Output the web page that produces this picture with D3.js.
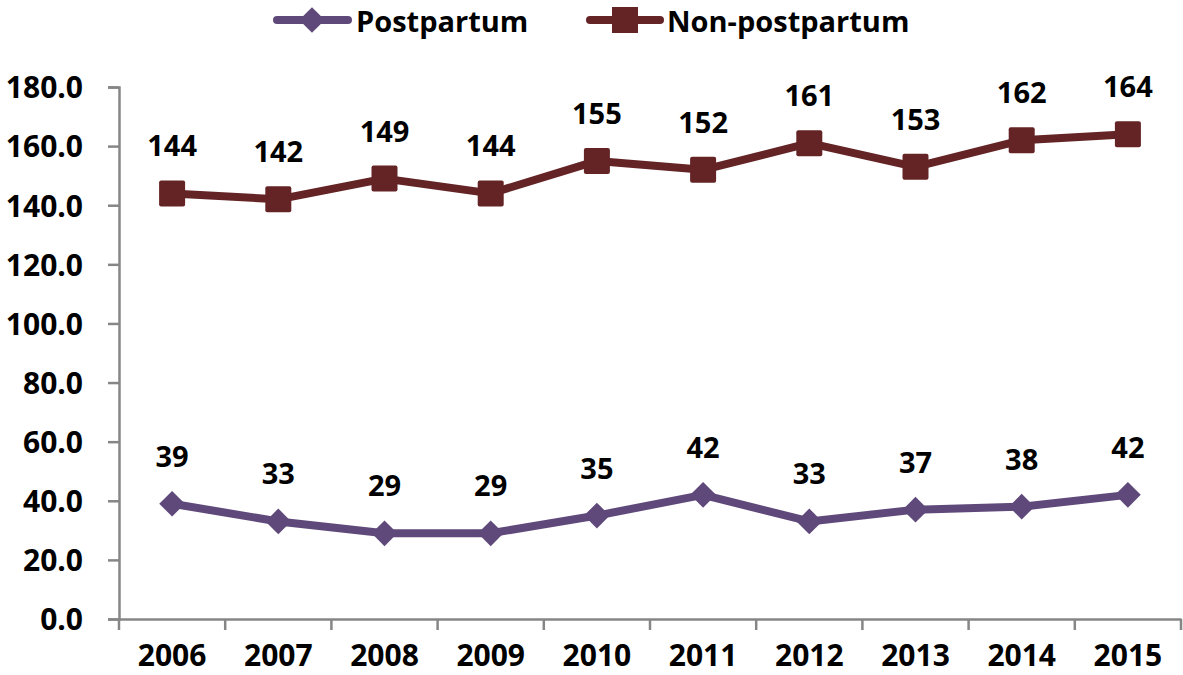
<!DOCTYPE html>
<html><head><meta charset="utf-8">
<script src="https://cdn.jsdelivr.net/npm/d3@7"></script>
<style>body{margin:0;background:#fff}svg{display:block}text{font-family:"Open Sans","Noto Sans",sans-serif;font-weight:bold;fill:#000}</style>
</head><body><svg id="c" width="1183" height="675"></svg>
<script>
const years = ["2006","2007","2008","2009","2010","2011","2012","2013","2014","2015"];
const postpartum = [39,33,29,29,35,42,33,37,38,42];
const nonPostpartum = [144,142,149,144,155,152,161,153,162,164];
const yTicks = [0,20,40,60,80,100,120,140,160,180];
const seriesNames = ["Postpartum","Non-postpartum"];

const svg = d3.select("#c");
const x = d3.scaleBand().domain(years).range([119,1181]);
const y = d3.scaleLinear().domain([0,180]).range([619,87]);
const purple = "#5f497a", maroon = "#642426";
const axisCol = "#868686";

const ya = svg.append("g").attr("transform","translate(119,0)")
  .call(d3.axisLeft(y).tickValues(yTicks).tickFormat(d3.format(".1f")).tickSize(11).tickPadding(25));
const xa = svg.append("g").attr("transform","translate(0,619)")
  .call(d3.axisBottom(x).tickSize(0).tickPadding(0));
[ya,xa].forEach(a=>{a.selectAll("path").attr("stroke",axisCol).attr("stroke-width",2.5);
  a.selectAll("line").attr("stroke",axisCol).attr("stroke-width",2.5);
  a.selectAll("text").style("font-size","30px").style("font-family","'Open Sans',sans-serif").style("font-weight","bold").attr("fill","#000");});
ya.selectAll("text").attr("dy","0.36em");
xa.selectAll("text").attr("y",47).attr("dy",0);
// category boundary ticks
xa.selectAll(".bt").data(d3.range(years.length+1)).enter().append("line")
  .attr("x1",i=>119+i*x.step()).attr("x2",i=>119+i*x.step())
  .attr("y1",0).attr("y2",11).attr("stroke",axisCol).attr("stroke-width",2.5);

const cx = d=>x(d)+x.bandwidth()/2;
const line = d3.line().x((d,i)=>cx(years[i])).y(d=>y(d));

function series(vals,color,shape){
  svg.append("path").datum(vals).attr("d",line).attr("fill","none").attr("stroke",color).attr("stroke-width",8).attr("stroke-linejoin","round");
  const g = svg.append("g");
  vals.forEach((v,i)=>{
    const px=cx(years[i]), py=y(v);
    if(shape==="sq") g.append("rect").attr("x",px-13).attr("y",py-13).attr("width",26).attr("height",26).attr("rx",2).attr("fill",color);
    else g.append("path").attr("d",d3.symbol(d3.symbolSquare,330)()).attr("transform",`translate(${px},${py}) rotate(45)`).attr("fill",color);
    svg.append("text").attr("x",px).attr("y",py-37).attr("text-anchor","middle").style("font-size","29px").text(v);
  });
}
series(nonPostpartum,maroon,"sq");
series(postpartum,purple,"dm");

// legend
const ly = 20;
const lg = svg.append("g");
lg.append("line").attr("x1",277).attr("x2",348).attr("y1",ly).attr("y2",ly).attr("stroke",purple).attr("stroke-width",8).attr("stroke-linecap","round");
lg.append("path").attr("d",d3.symbol(d3.symbolSquare,330)()).attr("transform",`translate(312,${ly}) rotate(45)`).attr("fill",purple);
lg.append("text").attr("x",356).attr("y",32).style("font-size","29px").text(seriesNames[0]);
lg.append("line").attr("x1",590).attr("x2",660).attr("y1",ly).attr("y2",ly).attr("stroke",maroon).attr("stroke-width",8).attr("stroke-linecap","round");
lg.append("rect").attr("x",612).attr("y",ly-13).attr("width",26).attr("height",26).attr("fill",maroon);
lg.append("text").attr("x",667).attr("y",32).style("font-size","29px").text(seriesNames[1]);
</script></body></html>
